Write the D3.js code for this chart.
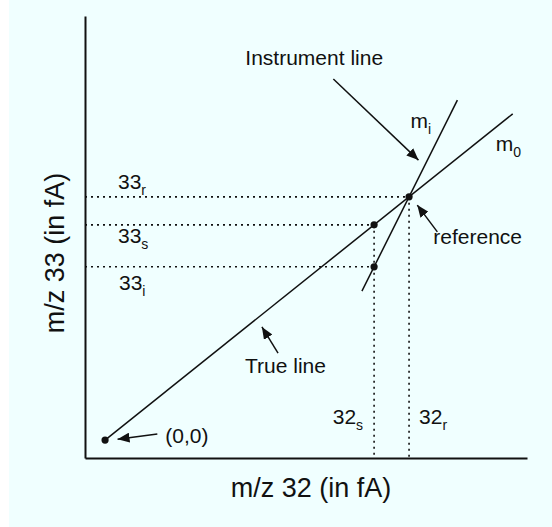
<!DOCTYPE html>
<html>
<head>
<meta charset="utf-8">
<script src="https://cdn.jsdelivr.net/npm/d3@7"></script>
<style>
  html, body { margin: 0; padding: 0; background: #ffffff; }
  svg { display: block; }
  text { font-family: "Liberation Sans", Arial, Helvetica, sans-serif; fill: #111; }
</style>
</head>
<body>
<svg id="chart" width="552" height="527"></svg>
<script>
// Signal units (fA); origin of the calibration at (0,0)
const xDomain = [-0.66, 13.88];
const yDomain = [-0.59, 13.95];

const slopeTrue = 0.8;        // m0
const slopeInstrument = 2.0;  // mi
const reference = { x: 10, y: 8 };      // (32r, 33r)
const sample32 = 8.85;                   // 32s

const trueLine = [[0, 0], [13.41, 10.73]];
const instrumentLine = [[8.45, 4.9], [11.59, 11.18]];

const points = [
  { x: 0, y: 0 },
  { x: reference.x, y: reference.y },
  { x: sample32, y: slopeTrue * sample32 },
  { x: sample32, y: reference.y + slopeInstrument * (sample32 - reference.x) }
];

// Arrows: tail -> tip, in data units
const arrows = [
  { from: [7.51, 11.88], to: [10.31, 9.21] },
  { from: [10.93, 6.85], to: [10.27, 7.73] },
  { from: [5.69, 2.86], to: [5.16, 3.72] },
  { from: [1.72, 0.20], to: [0.41, 0.03] }
];

const svg = d3.select("#chart");
const W = 552, H = 527;
const margin = { left: 85, right: 25, top: 16, bottom: 69 };

svg.append("rect").attr("x", 9).attr("y", 0).attr("width", W - 9).attr("height", H)
  .attr("fill", "#f0ffff");

const x = d3.scaleLinear().domain(xDomain).range([margin.left, W - margin.right]);
const y = d3.scaleLinear().domain(yDomain).range([H - margin.bottom, margin.top]);

// Axes (no ticks)
svg.append("g").attr("transform", `translate(0,${y(yDomain[0])})`)
  .call(d3.axisBottom(x).tickValues([]).tickSizeOuter(0))
  .select(".domain").attr("stroke", "#111").attr("stroke-width", 2);
svg.append("g").attr("transform", `translate(${x(xDomain[0])},0)`)
  .call(d3.axisLeft(y).tickValues([]).tickSizeOuter(0))
  .select(".domain").attr("stroke", "#111").attr("stroke-width", 2);

// Dotted guides
const sIns = points[3], sTrue = points[2];
const guides = [
  [[xDomain[0], reference.y], [reference.x, reference.y]],
  [[xDomain[0], sTrue.y], [sTrue.x, sTrue.y]],
  [[xDomain[0], sIns.y], [sIns.x, sIns.y]],
  [[sTrue.x, sTrue.y], [sTrue.x, yDomain[0]]],
  [[reference.x, reference.y], [reference.x, yDomain[0]]]
];
const line = d3.line().x(d => x(d[0])).y(d => y(d[1]));
svg.append("g").selectAll("path").data(guides).join("path")
  .attr("d", line).attr("fill", "none").attr("stroke", "#111")
  .attr("stroke-width", 1.6).attr("stroke-dasharray", "2,4");

// Calibration lines
svg.append("g").selectAll("path").data([trueLine, instrumentLine]).join("path")
  .attr("d", line).attr("fill", "none").attr("stroke", "#111").attr("stroke-width", 1.5);

// Points
svg.append("g").selectAll("circle").data(points).join("circle")
  .attr("cx", d => x(d.x)).attr("cy", d => y(d.y)).attr("r", 3.6).attr("fill", "#111");

// Arrows
svg.append("defs").append("marker")
  .attr("id", "head").attr("viewBox", "0 0 12 10").attr("refX", 12).attr("refY", 5)
  .attr("markerWidth", 12).attr("markerHeight", 10).attr("markerUnits", "userSpaceOnUse")
  .attr("orient", "auto")
  .append("path").attr("d", "M0,0 L12,5 L0,10 Z").attr("fill", "#111");
svg.append("g").selectAll("path").data(arrows).join("path")
  .attr("d", d => line([d.from, d.to])).attr("stroke", "#111").attr("stroke-width", 1.5)
  .attr("fill", "none").attr("marker-end", "url(#head)");

// Labels with subscripts
function label(px, py, main, sub, anchor, size) {
  const t = svg.append("text").attr("x", px).attr("y", py)
    .attr("text-anchor", anchor || "start").style("font-size", (size || 21) + "px");
  t.append("tspan").text(main);
  if (sub) t.append("tspan").attr("dy", 6).style("font-size", "14px").text(sub);
  return t;
}
const x0 = x(xDomain[0]);
label(x0 + 33, y(reference.y) - 8, "33", "r");
label(x0 + 33, y(sTrue.y) + 18, "33", "s");
label(x0 + 34, y(sIns.y) + 23, "33", "i");
label(x(sTrue.x) - 11, y(yDomain[0]) - 34, "32", "s", "end");
label(x(reference.x) + 10, y(yDomain[0]) - 34, "32", "r");
label(x(instrumentLine[1][0]) - 47, y(instrumentLine[1][1]) + 28, "m", "i");
label(x(trueLine[1][0]) - 17, y(trueLine[1][1]) + 37, "m", "0");
label(x(arrows[0].from[0]) - 88, y(arrows[0].from[1]) - 14, "Instrument line");
label(x(arrows[1].from[0]) - 4, y(arrows[1].from[1]) + 12, "reference");
label(x(arrows[2].from[0]) - 33, y(arrows[2].from[1]) + 20, "True line");
label(x(arrows[3].from[0]) + 8, y(arrows[3].from[1]) + 9, "(0,0)");

// Axis titles
svg.append("text").attr("x", (x.range()[0] + x.range()[1]) / 2 + 5).attr("y", 497)
  .attr("text-anchor", "middle").style("font-size", "27px").text("m/z 32 (in fA)");
svg.append("text").attr("transform", `translate(64,253) rotate(-90)`)
  .attr("text-anchor", "middle").style("font-size", "27px").text("m/z 33 (in fA)");
</script>
</body>
</html>
